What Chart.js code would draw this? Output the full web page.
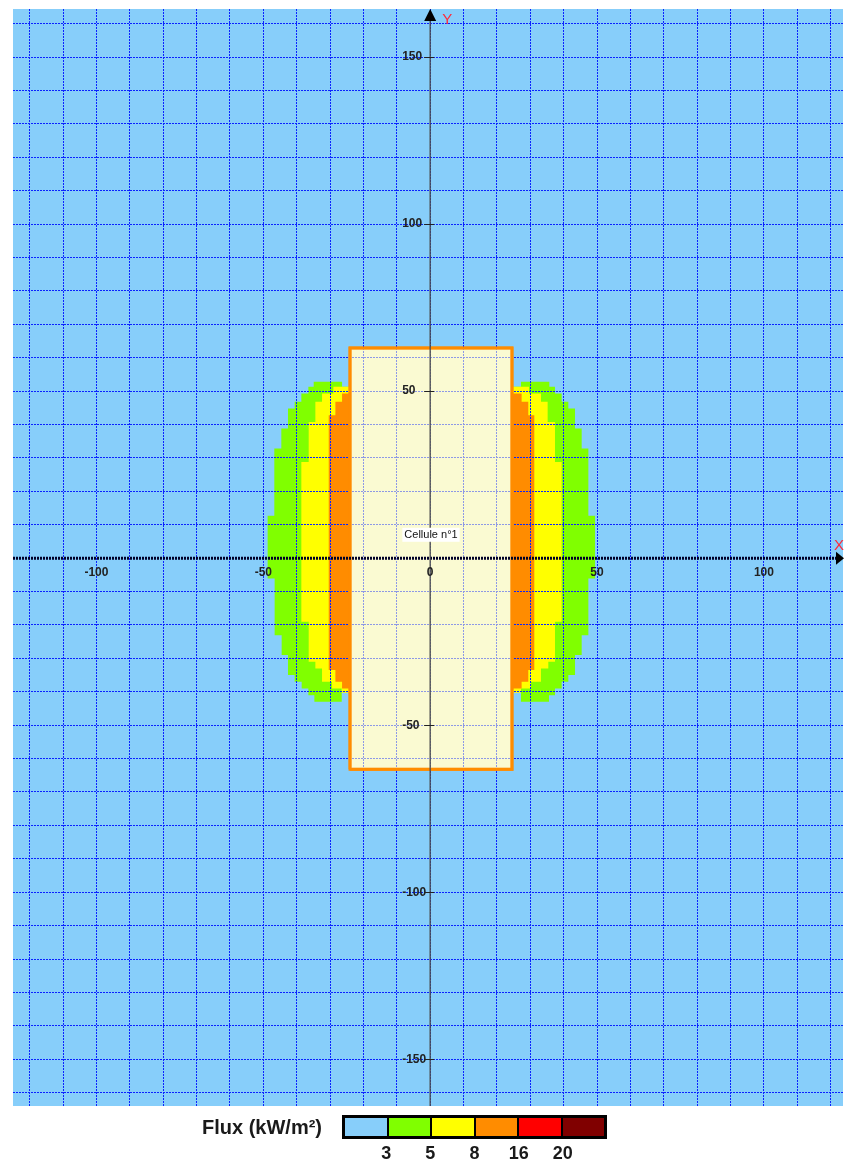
<!DOCTYPE html>
<html lang="fr">
<head>
<meta charset="utf-8">
<title>Flux thermique - Cellule n°1</title>
<script src="https://cdn.jsdelivr.net/npm/chart.js@4.4.1/dist/chart.umd.min.js"></script>
<style>
  html, body { margin: 0; padding: 0; background: #fff; }
  #wrap { position: relative; width: 844px; height: 1162px; overflow: hidden; }
  #wrap canvas { position: absolute; left: 0; top: 0; }
  .legend-title {
    position: absolute; left: 202px; top: 1116px; line-height: 20px;
    font: bold 20px "Liberation Sans", Arial, sans-serif; color: #1a1a1a; white-space: nowrap;
  }
  .legend-bar {
    position: absolute; left: 342px; top: 1115px; width: 259px; height: 18px;
    border: 3px solid #000; display: flex;
  }
  .legend-bar span { flex: 1; border-left: 2px solid #000; }
  .legend-bar span:first-child { border-left: none; }
  .legend-num {
    position: absolute; top: 1143px; line-height: 18px; transform: translateX(-50%);
    font: bold 18px "Liberation Sans", Arial, sans-serif; color: #1a1a1a;
  }
</style>
</head>
<body>
<div id="wrap">
  <canvas id="chart"></canvas>
  <div class="legend-title">Flux (kW/m²)</div>
  <div class="legend-bar" id="legendBar"></div>
</div>
<script>
// axis ranges (m) and grid step
const xRange = [-125, 123.7];
const yRange = [-164.0, 164.4];
const gridStep = 10;
const xTickLabels = [-100, -50, 0, 50, 100];
const yTickLabels = [-150, -100, -50, 50, 100, 150];

// legend
const fluxThresholds = [3, 5, 8, 16, 20];
const fluxColors = ['#87CEFA', '#80FF00', '#FFFF00', '#FF8C00', '#FF0000', '#800000'];

// cell outline
const cellName = 'Cellule n°1';
const cellX = [-24.0, 24.5];
const cellY = [-63.2, 62.9];

// flux zones, one row per band: [yTop, yBottom, xOuter, xInner]
const greenLeft = [
  [52.8, 51.3, -34.9, -26.4],
  [51.3, 49.3, -36.5, -24.0],
  [49.3, 46.8, -38.6, -24.0],
  [46.8, 44.8, -40.6, -24.0],
  [44.8, 38.8, -42.6, -24.0],
  [38.8, 32.8, -44.6, -24.0],
  [32.8, 12.7, -46.7, -24.0],
  [12.7, -6.1, -48.7, -24.0],
  [-6.1, -23.1, -46.6, -24.0],
  [-23.1, -29.0, -44.5, -24.0],
  [-29.0, -35.0, -42.6, -24.0],
  [-35.0, -37.0, -40.6, -24.0],
  [-37.0, -39.0, -38.5, -24.0],
  [-39.0, -41.0, -36.5, -26.5],
  [-41.0, -43.0, -34.7, -26.5]
];
const greenRight = [
  [52.8, 51.3, 35.7, 27.2],
  [51.3, 49.3, 37.4, 24.5],
  [49.3, 46.8, 39.4, 24.5],
  [46.8, 44.8, 41.4, 24.5],
  [44.8, 38.8, 43.4, 24.5],
  [38.8, 32.8, 45.4, 24.5],
  [32.8, 12.7, 47.4, 24.5],
  [12.7, -6.1, 49.4, 24.5],
  [-6.1, -23.1, 47.4, 24.5],
  [-23.1, -29.0, 45.4, 24.5],
  [-29.0, -35.0, 43.4, 24.5],
  [-35.0, -37.0, 41.4, 24.5],
  [-37.0, -39.0, 39.4, 24.5],
  [-39.0, -41.0, 37.4, 27.2],
  [-41.0, -43.0, 35.6, 27.2]
];
const yellowLeft = [
  [51.3, 49.3, -29.0, -24.0],
  [49.3, 46.8, -32.4, -24.0],
  [46.8, 40.8, -34.4, -24.0],
  [40.8, 28.8, -36.4, -24.0],
  [28.8, -19.0, -38.6, -24.0],
  [-19.0, -31.0, -36.4, -24.0],
  [-31.0, -33.0, -34.4, -24.0],
  [-33.0, -37.0, -32.4, -24.0],
  [-37.0, -39.0, -29.4, -24.0],
  [-39.0, -40.3, -26.5, -24.0]
];
const yellowRight = [
  [51.3, 49.3, 29.6, 24.5],
  [49.3, 46.8, 33.2, 24.5],
  [46.8, 40.8, 35.2, 24.5],
  [40.8, 28.8, 37.4, 24.5],
  [28.8, -19.0, 39.4, 24.5],
  [-19.0, -31.0, 37.4, 24.5],
  [-31.0, -33.0, 35.4, 24.5],
  [-33.0, -37.0, 33.2, 24.5],
  [-37.0, -39.0, 30.2, 24.5],
  [-39.0, -40.3, 27.2, 24.5]
];
const orangeLeft = [
  [49.3, 46.8, -26.4, -24.0],
  [46.8, 42.8, -28.4, -24.0],
  [42.8, -33.5, -30.4, -24.0],
  [-33.5, -37.0, -28.4, -24.0],
  [-37.0, -39.0, -26.4, -24.0]
];
const orangeRight = [
  [49.3, 46.8, 27.4, 24.5],
  [46.8, 42.8, 29.4, 24.5],
  [42.8, -33.5, 31.2, 24.5],
  [-33.5, -37.0, 29.4, 24.5],
  [-37.0, -39.0, 27.4, 24.5]
];

const plotBg = fluxColors[0];
const cellFill = '#FAFAD2';
const cellBorder = '#FF8C00';
const gridColor = '#0b22ff';
const labelFont = 'bold 12px "Liberation Sans", Arial, sans-serif';

// staircase outline: down the outer edge, back up the inner edge
function lobe(rows) {
  const outer = [];
  const inner = [];
  rows.forEach(([top, bottom, xo, xi]) => {
    outer.push({ x: xo, y: top }, { x: xo, y: bottom });
    inner.unshift({ x: xi, y: top });
    inner.unshift({ x: xi, y: bottom });
  });
  return outer.concat(inner);
}

function zone(rows, color, order) {
  return {
    data: lobe(rows),
    showLine: true,
    fill: 'shape',
    backgroundColor: color,
    borderColor: 'rgba(0,0,0,0)',
    borderWidth: 0,
    pointRadius: 0,
    order: order
  };
}

const datasets = [
  zone(greenLeft, fluxColors[1], 4),
  zone(greenRight, fluxColors[1], 4),
  zone(yellowLeft, fluxColors[2], 3),
  zone(yellowRight, fluxColors[2], 3),
  zone(orangeLeft, fluxColors[3], 2),
  zone(orangeRight, fluxColors[3], 2),
  {
    data: [
      { x: cellX[0], y: cellY[0] }, { x: cellX[0], y: cellY[1] },
      { x: cellX[1], y: cellY[1] }, { x: cellX[1], y: cellY[0] },
      { x: cellX[0], y: cellY[0] }
    ],
    showLine: true,
    fill: 'shape',
    backgroundColor: cellFill,
    borderColor: cellBorder,
    borderWidth: 3,
    pointRadius: 0,
    order: 1
  }
];

const plotBackground = {
  id: 'plotBackground',
  beforeDraw(chart) {
    const { ctx, chartArea: a } = chart;
    ctx.save();
    ctx.fillStyle = plotBg;
    ctx.fillRect(a.left, a.top, a.width, a.height);
    ctx.restore();
  }
};

const axesOverlay = {
  id: 'axesOverlay',
  afterDraw(chart) {
    const { ctx, chartArea: a, scales: { x, y } } = chart;
    const x0 = x.getPixelForValue(0);
    const y0 = y.getPixelForValue(0);
    ctx.save();

    // cell drawn over the grid, grid shows through faintly
    const cl = x.getPixelForValue(cellX[0]);
    const cr = x.getPixelForValue(cellX[1]);
    const ct = y.getPixelForValue(cellY[1]);
    const cb = y.getPixelForValue(cellY[0]);
    ctx.fillStyle = 'rgba(250,250,210,0.55)';
    ctx.fillRect(cl, ct, cr - cl, cb - ct);
    ctx.strokeStyle = cellBorder;
    ctx.lineWidth = 3;
    ctx.strokeRect(cl, ct, cr - cl, cb - ct);

    // x axis: heavy dotted line
    ctx.strokeStyle = '#000028';
    ctx.lineWidth = 3;
    ctx.setLineDash([2, 1]);
    ctx.beginPath();
    ctx.moveTo(a.left, y0);
    ctx.lineTo(a.right - 6, y0);
    ctx.stroke();
    ctx.setLineDash([]);

    // y axis: thin solid line
    ctx.strokeStyle = '#4a4a4a';
    ctx.lineWidth = 1.3;
    ctx.beginPath();
    ctx.moveTo(x0, a.bottom);
    ctx.lineTo(x0, a.top + 10);
    ctx.stroke();

    // arrow heads
    ctx.fillStyle = '#000';
    ctx.beginPath();
    ctx.moveTo(x0, a.top);
    ctx.lineTo(x0 - 6, a.top + 12);
    ctx.lineTo(x0 + 6, a.top + 12);
    ctx.closePath();
    ctx.fill();
    ctx.beginPath();
    ctx.moveTo(a.right + 1, y0);
    ctx.lineTo(a.right - 7, y0 - 6.5);
    ctx.lineTo(a.right - 7, y0 + 6.5);
    ctx.closePath();
    ctx.fill();

    ctx.fillStyle = '#ff2a3a';
    ctx.font = '15px "Liberation Sans", Arial, sans-serif';
    ctx.textAlign = 'center';
    ctx.textBaseline = 'middle';
    ctx.fillText('Y', x0 + 17, a.top + 11);
    ctx.fillText('X', a.right - 4, y0 - 12);

    // tick labels
    ctx.fillStyle = '#222';
    ctx.font = labelFont;
    xTickLabels.forEach(v => {
      ctx.fillText(String(v), x.getPixelForValue(v), y0 + 15);
    });
    ctx.textAlign = 'left';
    ctx.strokeStyle = '#222';
    ctx.lineWidth = 1;
    yTickLabels.forEach(v => {
      const py = y.getPixelForValue(v);
      ctx.fillText(String(v), x0 - 28, py);
      ctx.beginPath();
      ctx.moveTo(x0 - 6, Math.round(py) + 0.5);
      ctx.lineTo(x0 + 4, Math.round(py) + 0.5);
      ctx.stroke();
    });

    // cell name
    ctx.font = '11px "Liberation Sans", Arial, sans-serif';
    const cx = x.getPixelForValue((cellX[0] + cellX[1]) / 2);
    const cy = y.getPixelForValue(7);
    const w = ctx.measureText(cellName).width;
    ctx.fillStyle = '#fff';
    ctx.fillRect(cx - w / 2 - 2, cy - 7, w + 4, 14);
    ctx.fillStyle = '#111';
    ctx.textAlign = 'center';
    ctx.fillText(cellName, cx, cy);

    ctx.restore();
  }
};

function hideSize(scale) {
  scale.width = scale.isHorizontal() ? scale.width : 0;
  scale.height = scale.isHorizontal() ? 0 : scale.height;
}

const axisOptions = (range) => ({
  type: 'linear',
  min: range[0],
  max: range[1],
  afterFit: hideSize,
  ticks: { display: false, stepSize: gridStep, includeBounds: false },
  grid: { color: gridColor, lineWidth: 1, drawTicks: false, z: 1 },
  border: { display: false, dash: [2, 1] }
});

new Chart(document.getElementById('chart').getContext('2d'), {
  type: 'scatter',
  data: { datasets: datasets },
  options: {
    responsive: true,
    maintainAspectRatio: false,
    animation: false,
    events: [],
    layout: { padding: { left: 13, top: 9, right: 1, bottom: 56 } },
    plugins: { legend: { display: false }, tooltip: { enabled: false } },
    elements: { line: { tension: 0 } },
    scales: { x: axisOptions(xRange), y: axisOptions(yRange) }
  },
  plugins: [plotBackground, axesOverlay]
});

// colour scale legend
const bar = document.getElementById('legendBar');
fluxColors.forEach(c => {
  const s = document.createElement('span');
  s.style.background = c;
  bar.appendChild(s);
});
const barLeft = 342, barWidth = 265;
fluxThresholds.forEach((t, i) => {
  const d = document.createElement('div');
  d.className = 'legend-num';
  d.textContent = t;
  d.style.left = (barLeft + barWidth * (i + 1) / fluxColors.length) + 'px';
  document.getElementById('wrap').appendChild(d);
});
</script>
</body>
</html>
